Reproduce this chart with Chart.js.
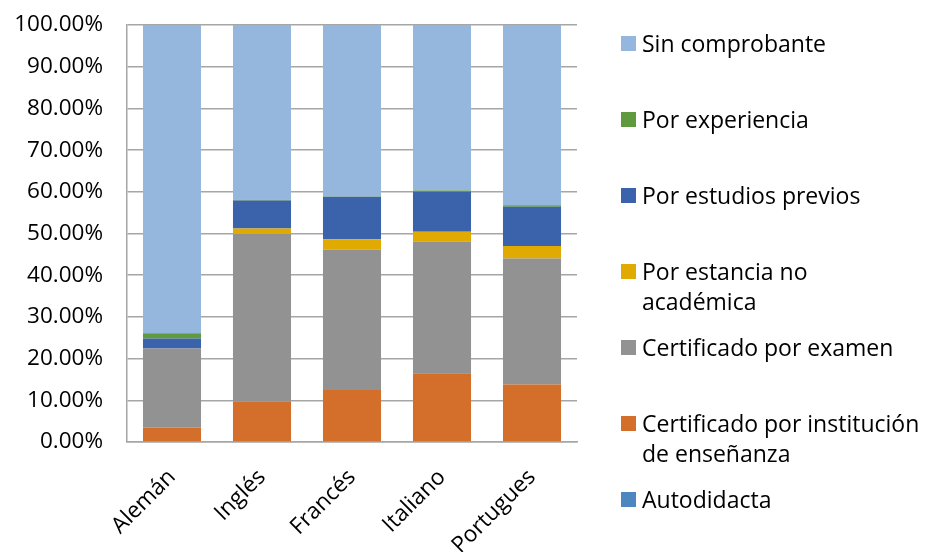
<!DOCTYPE html>
<html>
<head>
<meta charset="UTF-8">
<title>Tipo de comprobante por idioma</title>
<script src="https://cdn.jsdelivr.net/npm/chart.js"></script>
<style>
  body { margin: 0; background: #fff; font-family: "Open Sans", sans-serif; }
  #wrap { position: relative; width: 926px; height: 552px; }
  #legend { position: absolute; left: 621px; top: 28px; }
  .item { height: 76px; display: flex; align-items: flex-start; }
  .box { width: 15px; height: 15px; margin-top: 8px; margin-right: 6px; flex: none; }
  .txt { font-size: 23px; line-height: 30px; color: #000; white-space: pre-line; }
</style>
</head>
<body>
<div id="wrap">
  <canvas id="chart" width="926" height="552"></canvas>
  <div id="legend"></div>
</div>
<script>
  // datos (porcentajes)
  const idiomas = ['Alemán', 'Inglés', 'Francés', 'Italiano', 'Portugues'];
  const autodidacta = [0, 0, 0, 0, 0];
  const certInstitucion = [3.5, 9.7, 12.5, 16.5, 13.8];
  const certExamen = [18.9, 40.2, 33.6, 31.6, 30.2];
  const estanciaNoAcad = [0, 1.3, 2.5, 2.3, 3.0];
  const estudiosPrevios = [2.4, 6.7, 10.2, 9.6, 9.4];
  const experiencia = [1.3, 0.2, 0.1, 0.3, 0.4];
  const sinComprobante = [73.9, 41.9, 41.1, 39.7, 43.2];

  const series = [
    { label: 'Autodidacta', data: autodidacta, color: '#4E86C0' },
    { label: 'Certificado por institución\nde enseñanza', data: certInstitucion, color: '#D46E2B' },
    { label: 'Certificado por examen', data: certExamen, color: '#929292' },
    { label: 'Por estancia no\nacadémica', data: estanciaNoAcad, color: '#E1AA00' },
    { label: 'Por estudios previos', data: estudiosPrevios, color: '#3B63AC' },
    { label: 'Por experiencia', data: experiencia, color: '#5F9A3E' },
    { label: 'Sin comprobante', data: sinComprobante, color: '#95B7DE' }
  ];

  const font = { family: '"Open Sans", sans-serif', size: 22.5 };

  const chart = new Chart(document.getElementById('chart'), {
    type: 'bar',
    data: {
      labels: idiomas,
      datasets: series.map(s => ({
        label: s.label,
        data: s.data,
        backgroundColor: s.color,
        borderWidth: 0,
        categoryPercentage: 1,
        barPercentage: 0.645
      }))
    },
    options: {
      responsive: false,
      animation: false,
      layout: { padding: { left: 8, top: 25, right: 349, bottom: 0 } },
      plugins: { legend: { display: false }, tooltip: { enabled: false } },
      scales: {
        x: {
          stacked: true,
          grid: { display: false },
          border: { color: '#A6A6A6', width: 1.5 },
          ticks: { color: '#000', font: font, maxRotation: 45, minRotation: 45, padding: 14 },
          afterFit: s => { s.height = 110; }
        },
        y: {
          stacked: true,
          min: 0,
          max: 100,
          grid: { color: '#A6A6A6', lineWidth: 1.5, drawTicks: false },
          border: { color: '#A6A6A6', width: 1.5 },
          ticks: {
            stepSize: 10,
            color: '#000',
            font: font,
            padding: 24,
            callback: v => v.toFixed(2) + '%'
          },
          // el padding de las etiquetas no debe empujar el área hacia abajo
          afterFit: s => { s.width = 119; s.paddingTop = 0; s.paddingBottom = 0; }
        }
      }
    }
  });

  // leyenda (orden invertido como en Excel)
  const legend = document.getElementById('legend');
  series.slice().reverse().forEach(s => {
    const item = document.createElement('div');
    item.className = 'item';
    item.innerHTML = '<div class="box" style="background:' + s.color + '"></div><div class="txt"></div>';
    item.querySelector('.txt').textContent = s.label;
    legend.appendChild(item);
  });
</script>
</body>
</html>
